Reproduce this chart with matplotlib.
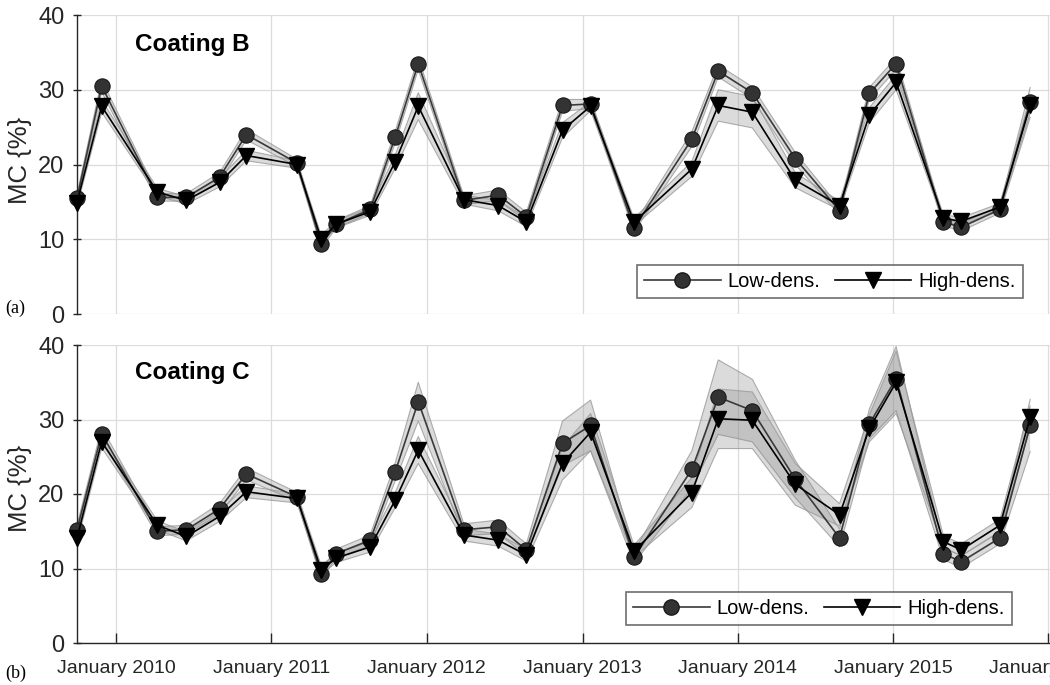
import matplotlib
matplotlib.use("Agg")
import matplotlib.pyplot as plt
import matplotlib.dates as mdates
import numpy as np
import pandas as pd
from matplotlib.lines import Line2D

# ---------------- data ----------------
dates = ["2009-10-01", "2009-11-28", "2010-04-08", "2010-06-15", "2010-09-01",
         "2010-11-03", "2011-03-02", "2011-04-28", "2011-06-02", "2011-08-21",
         "2011-10-19", "2011-12-12", "2012-03-28", "2012-06-17", "2012-08-22",
         "2012-11-15", "2013-01-20", "2013-05-02", "2013-09-15", "2013-11-16",
         "2014-02-04", "2014-05-16", "2014-08-28", "2014-11-06", "2015-01-08",
         "2015-04-29", "2015-06-10", "2015-09-09", "2015-11-19"]

b_low = [15.5, 30.5, 15.6, 15.6, 18.3, 24.0, 20.2, 9.3, 12.0, 14.0,
         23.7, 33.5, 15.2, 15.9, 13.0, 27.9, 28.1, 11.5, 23.4, 32.5,
         29.6, 20.8, 13.8, 29.5, 33.5, 12.3, 11.6, 14.0, 28.3]
b_high = [14.9, 27.8, 16.3, 15.2, 17.6, 21.2, 20.0, 10.0, 12.0, 13.7,
          20.4, 27.8, 15.3, 14.5, 12.3, 24.6, 27.8, 12.3, 19.4, 27.9,
          27.0, 17.9, 14.5, 26.6, 31.0, 12.8, 12.4, 14.3, 27.9]
b_low_sd = [0.5, 0.8, 0.5, 0.5, 0.6, 0.7, 0.5, 0.5, 0.5, 0.5,
            0.8, 0.8, 0.6, 0.7, 0.6, 0.8, 0.6, 0.5, 1.0, 0.8,
            0.8, 0.8, 0.5, 0.8, 0.8, 0.5, 0.5, 0.5, 2.0]
b_high_sd = [0.5, 0.8, 0.5, 0.5, 0.6, 0.7, 0.5, 0.5, 0.5, 0.5,
             0.9, 1.8, 0.6, 0.7, 0.6, 1.0, 0.6, 0.5, 1.0, 2.1,
             2.1, 1.0, 0.6, 1.0, 1.0, 0.5, 0.5, 0.5, 1.0]

c_low = [15.2, 28.1, 15.0, 15.2, 18.0, 22.7, 19.6, 9.2, 12.0, 13.8,
         23.0, 32.4, 15.2, 15.6, 12.5, 26.8, 29.2, 11.5, 23.3, 33.0,
         31.2, 22.0, 14.1, 29.4, 35.5, 12.0, 10.9, 14.1, 29.2]
c_high = [14.1, 27.0, 15.8, 14.3, 17.0, 20.3, 19.4, 9.8, 11.4, 12.9,
          19.2, 25.9, 14.5, 13.8, 11.8, 24.1, 28.3, 12.3, 20.2, 30.1,
          29.9, 21.3, 17.2, 28.8, 35.0, 13.6, 12.5, 15.8, 30.3]
c_low_sd = [0.6, 0.8, 0.6, 0.6, 0.7, 0.8, 0.6, 0.6, 0.6, 0.7,
            1.2, 2.6, 0.8, 0.9, 0.8, 3.0, 3.4, 0.8, 2.5, 5.0,
            4.2, 2.5, 1.2, 2.0, 4.3, 0.8, 0.8, 0.8, 3.5]
c_high_sd = [0.6, 0.8, 0.6, 0.6, 0.7, 0.8, 0.6, 0.6, 0.6, 0.7,
             1.0, 1.8, 0.8, 0.8, 0.8, 2.2, 2.5, 0.8, 2.0, 4.0,
             3.8, 2.8, 1.5, 1.8, 4.2, 0.8, 0.8, 0.8, 1.5]

panel_titles = ["Coating B", "Coating C"]
panel_tags = ["(a)", "(b)"]
series_labels = ["Low-dens.", "High-dens."]
yticks = [0, 10, 20, 30, 40]
xtick_years = [2010, 2011, 2012, 2013, 2014, 2015, 2016]

# ---------------- figure ----------------
plt.rcParams['font.family'] = ['Liberation Sans', 'DejaVu Sans']
W, H = 1050, 685
fig = plt.figure(figsize=(W / 100, H / 100), dpi=100)

x = pd.to_datetime(dates)
xlim = (pd.Timestamp("2009-10-01"), pd.Timestamp("2016-03-01"))
ax_left = 77 / W
ax_w = 997 / W

panels = [
    dict(top=15, bot=314, low=b_low, high=b_high, lsd=b_low_sd, hsd=b_high_sd,
         leg=(637, 265), title_y=45, tag_y=308, ylab_y=160),
    dict(top=345, bot=643, low=c_low, high=c_high, lsd=c_low_sd, hsd=c_high_sd,
         leg=(626, 592), title_y=373, tag_y=673, ylab_y=488),
]

dark = '#262626'
for i, p in enumerate(panels):
    ax = fig.add_axes([ax_left, 1 - p['bot'] / H, ax_w, (p['bot'] - p['top']) / H])
    low = np.array(p['low']); high = np.array(p['high'])
    lsd = np.array(p['lsd']); hsd = np.array(p['hsd'])

    for m, s in ((low, lsd), (high, hsd)):
        ax.fill_between(x, m - s, m + s, facecolor='#8a8a8a', alpha=0.3,
                        edgecolor='none', zorder=2)
        ax.plot(x, m - s, color='#9a9a9a', lw=0.8, alpha=0.8, zorder=2)
        ax.plot(x, m + s, color='#9a9a9a', lw=0.8, alpha=0.8, zorder=2)

    ax.plot(x, low, '-o', color='#3a3a3a', lw=1.2, ms=11,
            mfc='#333333', mec='#1a1a1a', mew=0.8, zorder=3, clip_on=False)
    ax.plot(x, high, '-v', color='#000000', lw=1.2, ms=11.5,
            mfc='#000000', mec='#000000', zorder=4, clip_on=False)

    ax.set_xlim(*xlim)
    ax.set_ylim(0, 40)
    ax.set_yticks(yticks)
    ax.set_xticks([pd.Timestamp(f"{y}-01-01") for y in xtick_years])
    ax.xaxis.set_major_formatter(mdates.DateFormatter('%B %Y'))
    ax.grid(True, color='#dcdcdc', lw=0.9, zorder=0)
    ax.set_axisbelow(True)
    for s in ('top', 'right'):
        ax.spines[s].set_visible(False)
    ax.spines['left'].set_color(dark)
    ax.spines['left'].set_linewidth(1.0)
    ax.tick_params(axis='y', labelsize=17, colors=dark, direction='inout',
                   length=6, width=1, pad=6)
    if i == 0:
        ax.spines['bottom'].set_visible(False)
        ax.tick_params(axis='x', length=0, labelbottom=False)
    else:
        ax.spines['bottom'].set_color(dark)
        ax.spines['bottom'].set_linewidth(1.0)
        ax.tick_params(axis='x', labelsize=14, colors=dark, direction='in',
                       length=7, width=1, pad=12)

    handles = [Line2D([], [], color='#3a3a3a', lw=1.2, marker='o', ms=11,
                      mfc='#333333', mec='#1a1a1a'),
               Line2D([], [], color='#000000', lw=1.2, marker='v', ms=11.5,
                      mfc='#000000', mec='#000000')]
    lx, ly = p['leg']
    leg = ax.legend(handles, series_labels, ncol=2, loc='upper left',
                    bbox_to_anchor=(lx / W, 1 - ly / H),
                    bbox_transform=fig.transFigure, borderaxespad=0,
                    fontsize=14.5, handlelength=3.8, handletextpad=0.35,
                    columnspacing=0.7, frameon=True, fancybox=False,
                    borderpad=0.35)
    leg.get_frame().set_edgecolor('#4a4a4a')
    leg.get_frame().set_linewidth(1.2)
    leg.set_zorder(6)

    fig.text(135 / W, 1 - p['title_y'] / H, panel_titles[i], fontsize=17.5,
             fontweight='bold', ha='left', va='center', color='black')
    fig.text(5 / W, 1 - p['tag_y'] / H, panel_tags[i], fontsize=13,
             family='Liberation Serif', ha='left', va='center', color='black')
    fig.text(20 / W, 1 - p['ylab_y'] / H, 'MC {%}', fontsize=18.5,
             rotation=90, ha='center', va='center', color=dark)

fig.savefig('out.png', dpi=100)
